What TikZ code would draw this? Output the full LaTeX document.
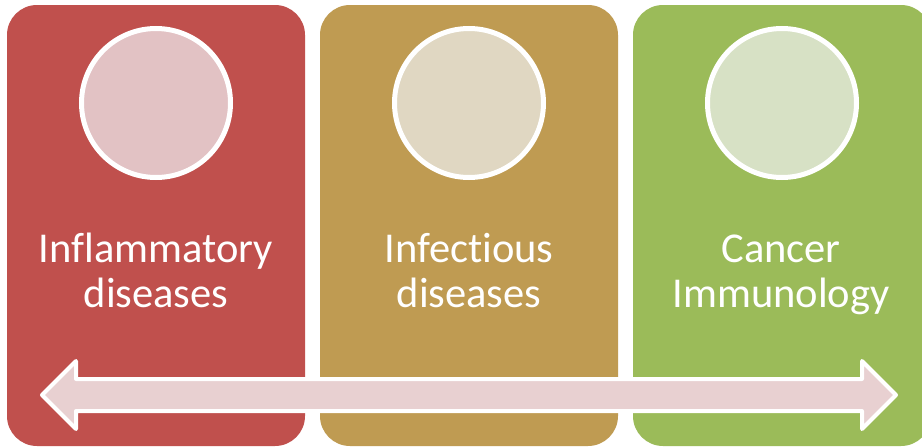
\documentclass[tikz,border=0pt]{standalone}
\usepackage{fontspec}
\setmainfont[Ligatures={NoCommon}]{Carlito}
\definecolor{boxred}{RGB}{192,80,77}
\definecolor{boxtan}{RGB}{191,155,82}
\definecolor{boxgreen}{RGB}{155,187,89}
\definecolor{circred}{RGB}{226,194,196}
\definecolor{circtan}{RGB}{224,215,194}
\definecolor{circgreen}{RGB}{215,225,197}
\definecolor{arrowpink}{RGB}{232,208,209}
\begin{document}
\begin{tikzpicture}[x=1pt,y=-1pt,
  panel/.style={rounded corners=30pt},
  disc/.style={circle,draw=white,line width=5pt,minimum size=149pt,inner sep=0pt},
  label/.style={text=white,font=\fontsize{42.5}{45}\selectfont,align=center,anchor=base,inner sep=0pt}]
\useasboundingbox (0,0) rectangle (922,447);
\fill[white] (0,0) rectangle (922,447);
\fill[boxred,panel] (7,5) rectangle (305,446);
\fill[boxtan,panel] (320,5) rectangle (618,446);
\fill[boxgreen,panel] (633,5) rectangle (931,446);
\node[disc,fill=circred] (c1) at (156,103) {};
\node[disc,fill=circtan] (c2) at (469,103) {};
\node[disc,fill=circgreen] (c3) at (782,103) {};
\node[label] (t1) at (156,307) {Inflammatory\\diseases};
\node[label] (t2) at (469,307) {Infectious\\diseases};
\node[label] (t3) at (781,307) {Cancer\\Immunology};
\draw[white,line width=4pt,fill=arrowpink,line join=round]
  (42,395) -- (76,361) -- (76,379) -- (862,379) -- (862,361) -- (896,395)
  -- (862,429) -- (862,411) -- (76,411) -- (76,429) -- cycle;
\end{tikzpicture}
\end{document}
